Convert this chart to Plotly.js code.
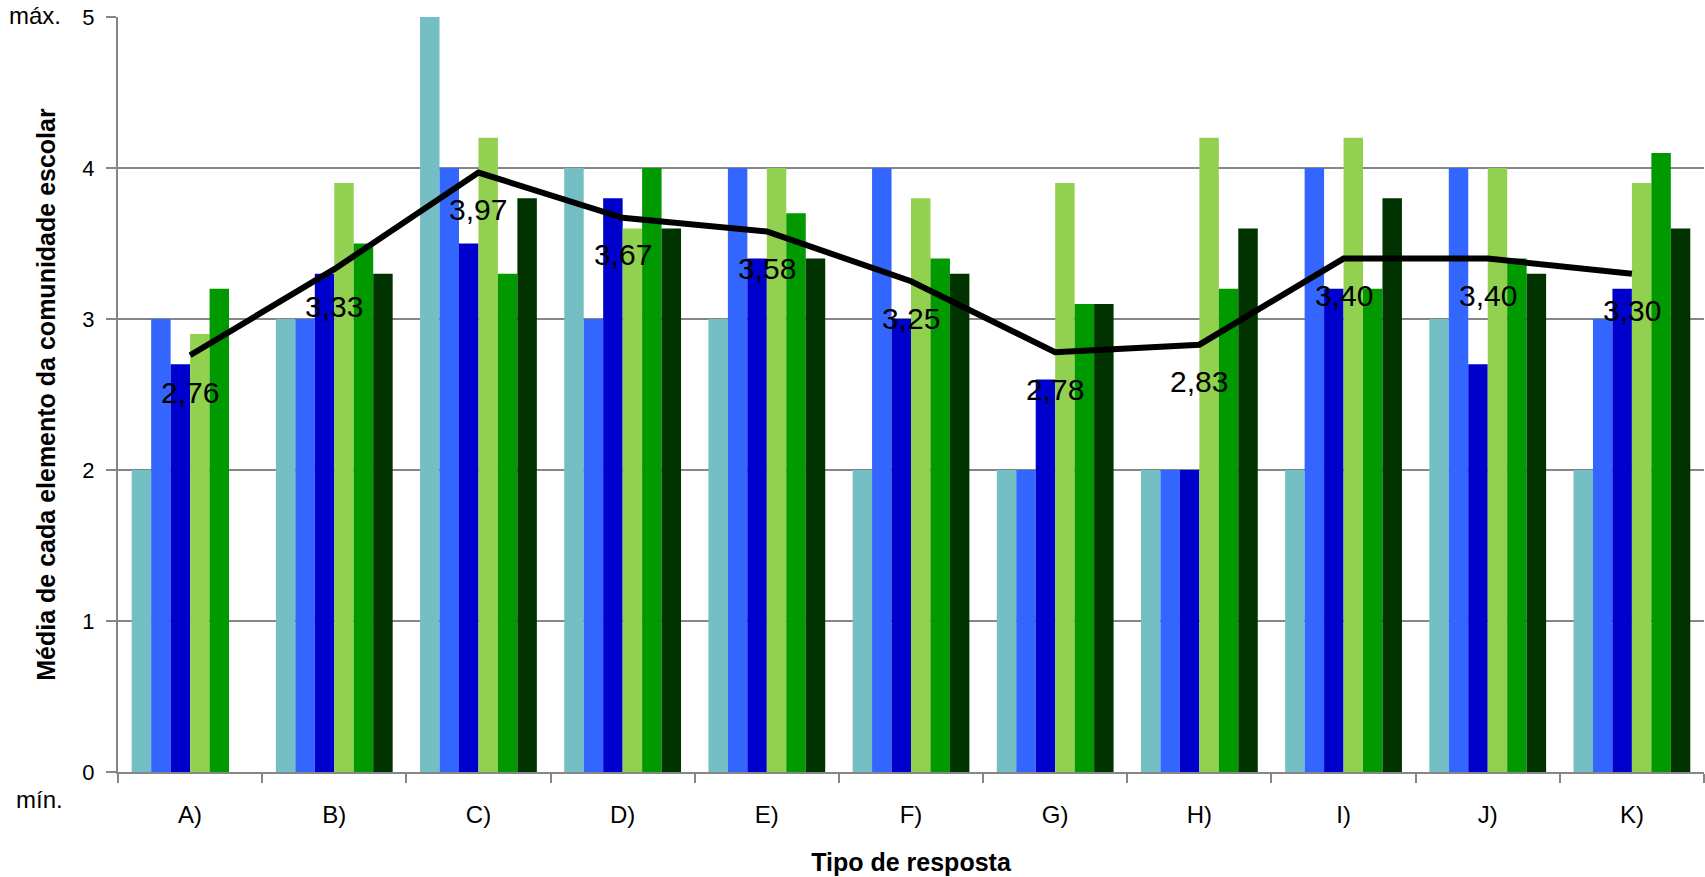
<!DOCTYPE html>
<html>
<head>
<meta charset="utf-8">
<script src="https://cdn.plot.ly/plotly-3.0.1.min.js"></script>
<style>
html,body{margin:0;padding:0;background:#fff;}
#chart{width:1705px;height:877px;}
</style>
</head>
<body>
<div id="chart"></div>
<script>
const categories = ["A)", "B)", "C)", "D)", "E)", "F)", "G)", "H)", "I)", "J)", "K)"];
const serieNames = ["Série 1", "Série 2", "Série 3", "Série 4", "Série 5", "Série 6"];
const serie1 = [2.0, 3.0, 5.0, 4.0, 3.0, 2.0, 2.0, 2.0, 2.0, 3.0, 2.0];
const serie2 = [3.0, 3.0, 4.0, 3.0, 4.0, 4.0, 2.0, 2.0, 4.0, 4.0, 3.0];
const serie3 = [2.7, 3.3, 3.5, 3.8, 3.4, 3.0, 2.6, 2.0, 3.2, 2.7, 3.2];
const serie4 = [2.9, 3.9, 4.2, 3.6, 4.0, 3.8, 3.9, 4.2, 4.2, 4.0, 3.9];
const serie5 = [3.2, 3.5, 3.3, 4.0, 3.7, 3.4, 3.1, 3.2, 3.2, 3.4, 4.1];
const serie6 = [null, 3.3, 3.8, 3.6, 3.4, 3.3, 3.1, 3.6, 3.8, 3.3, 3.6];
const media = [2.76, 3.33, 3.97, 3.67, 3.58, 3.25, 2.78, 2.83, 3.40, 3.40, 3.30];
const mediaLabels = ["2,76", "3,33", "3,97", "3,67", "3,58", "3,25", "2,78", "2,83", "3,40", "3,40", "3,30"];
const yTickVals = [0, 1, 2, 3, 4, 5];
const yTickText = ["0", "1", "2", "3", "4", "5"];

const colors = ["#74BFC4", "#3366FF", "#0000CC", "#92D050", "#009900", "#003300"];
const series = [serie1, serie2, serie3, serie4, serie5, serie6];
const FONT = "Liberation Sans, Arial, sans-serif";

const traces = series.map((vals, i) => ({
  type: "bar",
  name: serieNames[i],
  x: categories,
  y: vals,
  marker: {color: colors[i], line: {width: 0}},
  hoverinfo: "x+y"
}));

traces.push({
  type: "scatter",
  mode: "lines",
  name: "Média",
  x: categories,
  y: media,
  line: {color: "#000000", width: 6},
  hoverinfo: "x+y"
});

const annotations = media.map((v, i) => ({
  x: categories[i], y: v, xref: "x", yref: "y",
  text: mediaLabels[i], showarrow: false,
  yshift: -37, xanchor: "center", yanchor: "middle",
  font: {family: FONT, size: 30, color: "#000"}
}));
annotations.push({
  xref: "paper", yref: "paper", x: 0, y: 1, xanchor: "right", yanchor: "middle",
  xshift: -55, yshift: 2, text: "máx.", showarrow: false,
  font: {family: FONT, size: 24, color: "#000"}
});
annotations.push({
  xref: "paper", yref: "paper", x: 0, y: 0, xanchor: "right", yanchor: "middle",
  xshift: -53, yshift: -27, text: "mín.", showarrow: false,
  font: {family: FONT, size: 24, color: "#000"}
});

const layout = {
  width: 1705, height: 877,
  margin: {l: 118, r: 1, t: 17, b: 105, pad: 0},
  paper_bgcolor: "#ffffff",
  plot_bgcolor: "#ffffff",
  showlegend: false,
  barmode: "group",
  bargap: 0.19,
  bargroupgap: 0,
  font: {family: FONT, color: "#000"},
  xaxis: {
    type: "category",
    tickson: "boundaries",
    ticks: "outside", ticklen: 9, tickwidth: 2, tickcolor: "#868686",
    showline: true, linecolor: "#868686", linewidth: 2,
    showgrid: false, zeroline: false,
    tickfont: {family: FONT, size: 24, color: "#000"},
    ticklabelstandoff: 20,
    title: {text: "<b>Tipo de resposta</b>", font: {family: FONT, size: 25, color: "#000"}, standoff: 27}
  },
  yaxis: {
    range: [0, 5],
    tickvals: yTickVals, ticktext: yTickText,
    ticks: "outside", ticklen: 10, tickwidth: 2, tickcolor: "#868686",
    showline: true, linecolor: "#868686", linewidth: 2,
    showgrid: true, gridcolor: "#868686", gridwidth: 2.5,
    zeroline: false,
    tickfont: {family: FONT, size: 22, color: "#000"},
    ticklabelstandoff: 7,
    title: {text: "<b>Média de cada elemento da comunidade escolar</b>", font: {family: FONT, size: 25, color: "#000"}, standoff: 20}
  },
  annotations: annotations
};

Plotly.newPlot("chart", traces, layout, {displayModeBar: false, staticPlot: true});
</script>
</body>
</html>
